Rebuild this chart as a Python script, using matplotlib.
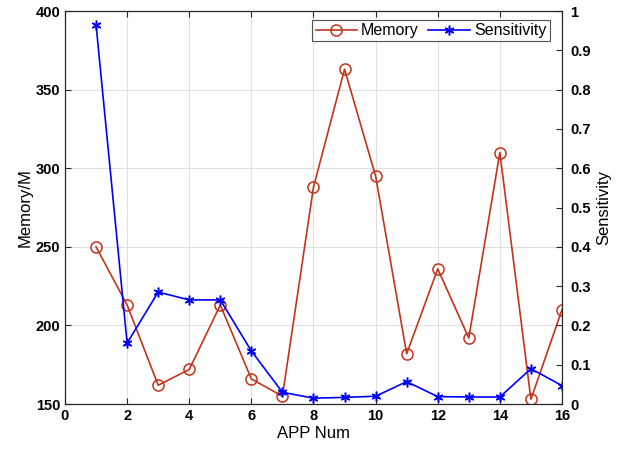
import numpy as np
import matplotlib.pyplot as plt

plt.rcParams['font.family'] = ['Liberation Sans', 'DejaVu Sans']

# APP index vs memory use and sensitivity
app_num = np.arange(1, 17)
memory = [250, 213, 162, 172, 213, 166, 155, 288, 363, 295, 182, 236, 192, 310, 153, 210]
sensitivity = [0.965, 0.155, 0.285, 0.265, 0.265, 0.135, 0.03, 0.015,
               0.017, 0.02, 0.057, 0.019, 0.018, 0.018, 0.09, 0.047]

red = '#c4331b'
blue = '#0000ff'
axc = '#262626'

fig = plt.figure(figsize=(6.22, 4.53), dpi=100)
ax = fig.add_axes([0.1045, 0.108, 0.799, 0.8677])
ax2 = ax.twinx()

l1, = ax.plot(app_num, memory, '-o', color=red, mfc='none', ms=8, mew=1.1, lw=1.2, label='Memory')
l2, = ax2.plot(app_num, sensitivity, '-', marker=(6, 2, 0), color=blue, ms=7, mew=1.1, lw=1.2,
               label='Sensitivity')

ax.set_xlim(0, 16)
ax.set_ylim(150, 400)
ax2.set_ylim(0, 1)
ax.set_xticks(np.arange(0, 17, 2))
ax.set_yticks(np.arange(150, 401, 50))
ax2.set_yticks(np.arange(0, 1.01, 0.1))
ax2.set_yticklabels(['0', '0.1', '0.2', '0.3', '0.4', '0.5', '0.6', '0.7', '0.8', '0.9', '1'])

ax.grid(True, color='#e0e0e0', lw=0.8)
ax.set_axisbelow(True)

ax.tick_params(axis='x', top=True)
for a in (ax, ax2):
    a.tick_params(direction='in', length=4, width=0.8, colors=axc, labelsize=10.5)
    for lab in a.get_xticklabels() + a.get_yticklabels():
        lab.set_fontweight('bold')
        lab.set_color('black')
    for s in a.spines.values():
        s.set_color(axc)
        s.set_linewidth(0.8)
ax2.tick_params(axis='y', pad=6)

ax.set_xlabel('APP Num', fontsize=12, labelpad=2)
ax.set_ylabel('Memory/M', fontsize=12, labelpad=2)
ax2.set_ylabel('Sensitivity', fontsize=12, labelpad=4)

leg = ax2.legend([l1, l2], ['Memory', 'Sensitivity'], loc='upper right', ncol=2,
                 fontsize=11.5, frameon=True, fancybox=False, edgecolor=axc,
                 borderpad=0.2, columnspacing=0.6, handlelength=2.6, handletextpad=0.25,
                 borderaxespad=0, bbox_to_anchor=(0.975, 0.977))
leg.get_frame().set_linewidth(0.8)

fig.savefig('out.png', dpi=100)
